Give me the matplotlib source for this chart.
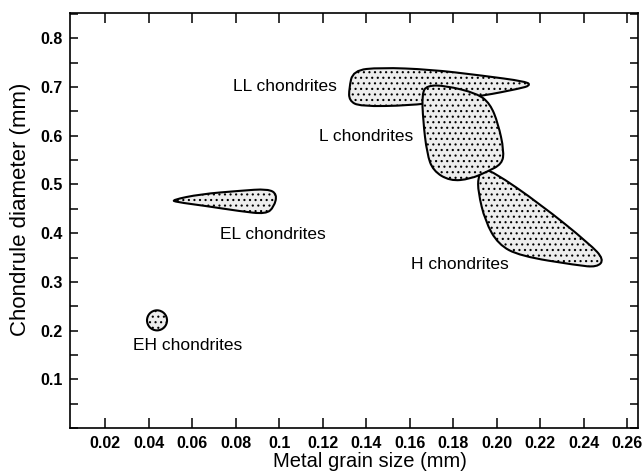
import numpy as np
import matplotlib
matplotlib.use("Agg")
import matplotlib.pyplot as plt
from matplotlib.path import Path
from matplotlib.patches import PathPatch, Ellipse
from matplotlib.ticker import MultipleLocator, FixedLocator

plt.rcParams['font.family'] = ['Liberation Sans', 'DejaVu Sans']
plt.rcParams['hatch.color'] = '#7a7a7a'
plt.rcParams['hatch.linewidth'] = 0.8

# ---- data (outline points of each field, in data units) ----
ll_x = [0.1322, 0.1340, 0.1464, 0.1694, 0.1924, 0.2140, 0.2154, 0.2108, 0.1938, 0.1740, 0.1602, 0.1372, 0.1322]
ll_y = [0.697, 0.734, 0.740, 0.736, 0.724, 0.711, 0.703, 0.697, 0.682, 0.670, 0.662, 0.660, 0.672]

l_x = [0.1657, 0.1680, 0.1763, 0.1910, 0.1970, 0.2007, 0.2034, 0.2025, 0.1956, 0.1878, 0.1786, 0.1708, 0.1680, 0.1662]
l_y = [0.687, 0.703, 0.703, 0.687, 0.666, 0.625, 0.569, 0.542, 0.526, 0.511, 0.507, 0.528, 0.563, 0.631]

h_x = [0.1915, 0.1933, 0.1979, 0.2200, 0.2430, 0.2494, 0.2462, 0.2370, 0.2108, 0.2007, 0.1947, 0.1915]
h_y = [0.515, 0.530, 0.528, 0.460, 0.377, 0.346, 0.330, 0.334, 0.353, 0.377, 0.425, 0.485]

el_x = [0.0508, 0.0637, 0.0821, 0.0949, 0.0991, 0.0977, 0.0940, 0.0821, 0.0660, 0.0526]
el_y = [0.468, 0.480, 0.487, 0.491, 0.480, 0.454, 0.439, 0.445, 0.456, 0.464]

eh_center = (0.0439, 0.221)

label_names = ["LL chondrites", "L chondrites", "EL chondrites", "H chondrites", "EH chondrites"]
label_x = [0.1267, 0.1616, 0.0729, 0.1607, 0.0329]
label_y = [0.701, 0.598, 0.398, 0.336, 0.169]
label_ha = ["right", "right", "left", "left", "left"]

xticks = [0.02, 0.04, 0.06, 0.08, 0.10, 0.12, 0.14, 0.16, 0.18, 0.20, 0.22, 0.24, 0.26]
xticklabels = ['0.02', '0.04', '0.06', '0.08', '0.1', '0.12', '0.14', '0.16', '0.18', '0.20', '0.22', '0.24', '0.26']
yticks = [0.1, 0.2, 0.3, 0.4, 0.5, 0.6, 0.7, 0.8]
yticklabels = ['0.1', '0.2', '0.3', '0.4', '0.5', '0.6', '0.7', '0.8']


def smooth_patch(xs, ys, **kw):
    pts = np.column_stack([xs, ys])
    mids = (pts + np.roll(pts, -1, axis=0)) / 2.0
    verts = [mids[-1]]
    codes = [Path.MOVETO]
    for i in range(len(pts)):
        verts += [pts[i], mids[i]]
        codes += [Path.CURVE3, Path.CURVE3]
    verts.append(mids[-1])
    codes.append(Path.CLOSEPOLY)
    return PathPatch(Path(verts, codes), **kw)


fig = plt.figure(figsize=(6.44, 4.76), dpi=100)
ax = fig.add_axes([0.1087, 0.1008, 0.882, 0.872])

style = dict(facecolor='#ededed', edgecolor='black', linewidth=1.5, hatch='...', joinstyle='round')
ax.add_patch(smooth_patch(ll_x, ll_y, **style, zorder=2))
ax.add_patch(smooth_patch(l_x, l_y, **style, zorder=3))
ax.add_patch(smooth_patch(h_x, h_y, **style, zorder=2))
ax.add_patch(smooth_patch(el_x, el_y, **style, zorder=2))
ax.add_patch(Ellipse(eh_center, width=0.0092, height=0.0412, **style, zorder=2))

for name, x, y, ha in zip(label_names, label_x, label_y, label_ha):
    ax.text(x, y, name, ha=ha, va='center', fontsize=12.5)

ax.set_xlim(0.0039, 0.265)
ax.set_ylim(0.0, 0.852)

ax.xaxis.set_major_locator(FixedLocator(xticks))
ax.set_xticklabels(xticklabels, fontweight='bold')
ax.yaxis.set_major_locator(FixedLocator(yticks))
ax.set_yticklabels(yticklabels, fontweight='bold')
ax.yaxis.set_minor_locator(MultipleLocator(0.05))

ax.tick_params(axis='both', which='both', direction='in', top=True, right=True,
               width=1.1, labelsize=11.5)
ax.tick_params(axis='x', which='major', length=7, pad=6)
ax.tick_params(axis='y', which='major', length=6, pad=5)
ax.tick_params(axis='y', which='minor', length=6)
for s in ax.spines.values():
    s.set_linewidth(1.2)

ax.set_xlabel("Metal grain size (mm)", fontsize=14.5)
ax.xaxis.set_label_coords(0.528, -0.058)
ax.set_ylabel("Chondrule diameter (mm)", fontsize=16)
ax.yaxis.set_label_coords(-0.068, 0.528)

fig.savefig("out.png", dpi=100)
